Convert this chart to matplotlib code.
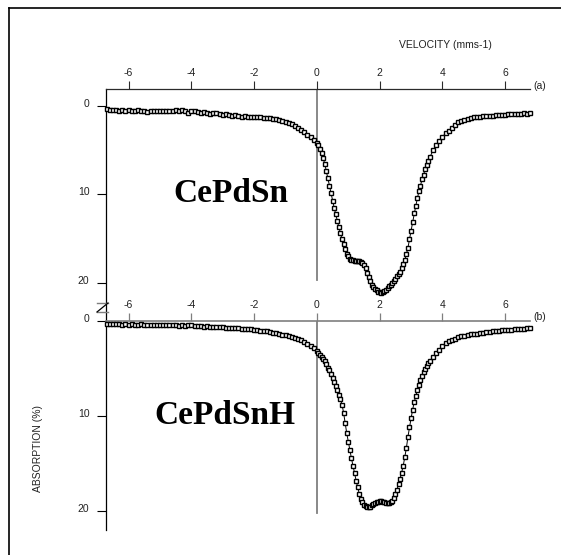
import matplotlib
matplotlib.use('Agg')
import matplotlib.pyplot as plt
from matplotlib.lines import Line2D
from matplotlib.transforms import ScaledTranslation

plt.rcParams['axes.unicode_minus'] = False
plt.rcParams['font.family'] = ['Liberation Sans', 'DejaVu Sans']

# ---------------- data ----------------
velocity = [
    -6.7, -6.6, -6.5, -6.4, -6.3, -6.2, -6.1, -6.0, -5.9, -5.8,
    -5.7, -5.6, -5.5, -5.4, -5.3, -5.2, -5.1, -5.0, -4.9, -4.8,
    -4.7, -4.6, -4.5, -4.4, -4.3, -4.2, -4.1, -4.0, -3.9, -3.8,
    -3.7, -3.6, -3.5, -3.4, -3.3, -3.2, -3.1, -3.0, -2.9, -2.8,
    -2.7, -2.6, -2.5, -2.4, -2.3, -2.2, -2.1, -2.0, -1.9, -1.8,
    -1.7, -1.6, -1.5, -1.4, -1.3, -1.2, -1.1, -1.0, -0.9, -0.8,
    -0.7, -0.6, -0.5, -0.4, -0.3, -0.2, -0.1,
    0.00, 0.05, 0.10, 0.15, 0.20, 0.25, 0.30, 0.35, 0.40, 0.45,
    0.50, 0.55, 0.60, 0.65, 0.70, 0.75, 0.80, 0.85, 0.90, 0.95,
    1.00, 1.05, 1.10, 1.15, 1.20, 1.25, 1.30, 1.35, 1.40, 1.45,
    1.50, 1.55, 1.60, 1.65, 1.70, 1.75, 1.80, 1.85, 1.90, 1.95,
    2.00, 2.05, 2.10, 2.15, 2.20, 2.25, 2.30, 2.35, 2.40, 2.45,
    2.50, 2.55, 2.60, 2.65, 2.70, 2.75, 2.80, 2.85, 2.90, 2.95,
    3.00, 3.05, 3.10, 3.15, 3.20, 3.25, 3.30, 3.35, 3.40, 3.45,
    3.50, 3.55, 3.60,
    3.7, 3.8, 3.9, 4.0, 4.1, 4.2, 4.3, 4.4, 4.5, 4.6,
    4.7, 4.8, 4.9, 5.0, 5.1, 5.2, 5.3, 5.4, 5.5, 5.6,
    5.7, 5.8, 5.9, 6.0, 6.1, 6.2, 6.3, 6.4, 6.5, 6.6,
    6.7, 6.8,
]

absorption_a = [  # CePdSn
    0.38, 0.42, 0.48, 0.40, 0.52, 0.45, 0.55, 0.47, 0.52, 0.62,
    0.48, 0.56, 0.52, 0.66, 0.52, 0.57, 0.62, 0.52, 0.58, 0.55,
    0.52, 0.57, 0.50, 0.55, 0.48, 0.60, 0.78, 0.62, 0.58, 0.70,
    0.80, 0.70, 0.78, 0.90, 0.82, 0.78, 0.95, 1.00, 0.88, 1.00,
    1.12, 1.00, 1.08, 1.20, 1.15, 1.22, 1.20, 1.22, 1.28, 1.25,
    1.32, 1.35, 1.38, 1.42, 1.48, 1.56, 1.66, 1.77, 1.91, 2.08,
    2.27, 2.47, 2.70, 2.95, 3.23, 3.52, 3.82,
    4.15, 4.45, 4.85, 5.30, 5.90, 6.55, 7.35, 8.10, 9.00, 9.85,
    10.7, 11.5, 12.25, 13.05, 13.7, 14.4, 15.05, 15.65, 16.2, 16.7,
    17.0, 17.25, 17.4, 17.45, 17.5, 17.5, 17.5, 17.55, 17.6, 17.75,
    17.95, 18.35, 18.85, 19.3, 19.8, 20.2, 20.5, 20.7, 20.85, 21.0,
    21.05, 21.1, 21.05, 20.95, 20.75, 20.6, 20.4, 20.2, 20.0, 19.75,
    19.5, 19.25, 19.0, 18.75, 18.35, 17.9, 17.4, 16.75, 16.05, 15.05,
    14.1, 13.15, 12.15, 11.3, 10.45, 9.65, 9.0, 8.3, 7.75, 7.15,
    6.65, 6.2, 5.8,
    5.0, 4.45, 3.95, 3.5, 3.1, 2.8, 2.5, 2.1, 1.85, 1.7,
    1.55, 1.45, 1.38, 1.30, 1.28, 1.22, 1.15, 1.18, 1.08, 1.10,
    1.02, 1.05, 0.98, 1.00, 0.92, 0.96, 0.88, 0.92, 0.85, 0.82,
    0.86, 0.78,
]

absorption_b = [  # CePdSnH
    0.30, 0.35, 0.28, 0.36, 0.32, 0.38, 0.33, 0.40, 0.35, 0.38,
    0.42, 0.36, 0.40, 0.44, 0.38, 0.42, 0.40, 0.45, 0.42, 0.40,
    0.46, 0.42, 0.45, 0.48, 0.44, 0.50, 0.47, 0.45, 0.52, 0.55,
    0.50, 0.58, 0.55, 0.60, 0.65, 0.62, 0.68, 0.66, 0.72, 0.70,
    0.75, 0.78, 0.76, 0.82, 0.80, 0.86, 0.88, 0.90, 0.95, 1.00,
    1.05, 1.10, 1.16, 1.22, 1.30, 1.38, 1.46, 1.52, 1.60, 1.68,
    1.78, 1.90, 2.05, 2.22, 2.42, 2.65, 2.88,
    3.12, 3.35, 3.55, 3.75, 4.00, 4.25, 4.55, 4.90, 5.20, 5.60,
    6.00, 6.40, 6.85, 7.30, 7.75, 8.25, 8.80, 9.65, 10.7, 11.8,
    12.7, 13.6, 14.45, 15.25, 16.05, 16.8, 17.5, 18.2, 18.7, 19.1,
    19.35, 19.5, 19.6, 19.6, 19.55, 19.4, 19.25, 19.15, 19.05, 19.0,
    18.95, 18.95, 19.0, 19.05, 19.15, 19.2, 19.2, 19.1, 18.9, 18.6,
    18.2, 17.75, 17.2, 16.6, 15.95, 15.25, 14.35, 13.4, 12.2, 11.2,
    10.25, 9.35, 8.55, 7.9, 7.3, 6.7, 6.2, 5.75, 5.35, 5.0,
    4.7, 4.45, 4.2,
    3.8, 3.4, 3.0, 2.65, 2.35, 2.15, 1.98, 1.85, 1.72, 1.62,
    1.55, 1.48, 1.42, 1.36, 1.32, 1.26, 1.22, 1.18, 1.14, 1.10,
    1.06, 1.02, 0.99, 0.96, 0.93, 0.90, 0.88, 0.85, 0.82, 0.80,
    0.78, 0.75,
]

x_ticks = [-6, -4, -2, 0, 2, 4, 6]
y_ticks = [0, 10, 20]
sample_a = "CePdSn"
sample_b = "CePdSnH"
x_title = "VELOCITY (mms-1)"
y_title = "ABSORPTION (%)"

# ---------------- layout ----------------
W, H = 561, 555
fig = plt.figure(figsize=(W / 100, H / 100), dpi=100)


def fx(px):
    return px / W


def fy(py):
    return 1 - py / H


ax_a = fig.add_axes([fx(106), fy(321), fx(530) - fx(106), fy(89) - fy(321)])
ax_b = fig.add_axes([fx(106), fy(530), fx(530) - fx(106), fy(321) - fy(530)])

DARK = '#2a2a2a'
GRAY = '#7f7f7f'

for ax in (ax_a, ax_b):
    ax.patch.set_alpha(0)
    ax.set_xlim(-6.72, 6.79)
    ax.spines['right'].set_visible(False)
    ax.spines['bottom'].set_visible(False)
    ax.spines['left'].set_color('black')
    ax.spines['left'].set_linewidth(0.9)
    ax.xaxis.tick_top()
    ax.set_xticks(x_ticks)
    ax.set_xticklabels([str(t) for t in x_ticks])
    ax.set_yticks(y_ticks)
    ax.set_yticklabels([str(t) for t in y_ticks])
    ax.tick_params(axis='y', direction='out', length=6.5, width=0.8,
                   pad=5.5, labelsize=7.5, colors='black', labelcolor='#222222')
    off = ScaledTranslation(0, 3 / 100, fig.dpi_scale_trans)
    for lab in ax.get_yticklabels():
        lab.set_transform(lab.get_transform() + off)

ax_a.set_ylim(24.3, -1.92)
ax_b.set_ylim(22.0, 0)

ax_a.spines['top'].set_color(DARK)
ax_a.spines['top'].set_linewidth(0.9)
ax_a.tick_params(axis='x', direction='out', length=5.8, width=0.8, pad=2,
                 labelsize=7.5, colors=DARK, labelcolor='#222222')

ax_b.spines['top'].set_color(GRAY)
ax_b.spines['top'].set_linewidth(1.2)
ax_b.tick_params(axis='x', direction='out', length=5.8, width=0.9, pad=2,
                 labelsize=7.5, colors=GRAY, labelcolor='#222222')
ax_b.yaxis.get_major_ticks()[0].tick1line.set_color(GRAY)

# zero-velocity lines
ax_a.plot([0, 0], [-1.92, 19.7], color=GRAY, lw=1.3, zorder=1)
ax_b.plot([0, 0], [0, 20.2], color=GRAY, lw=1.3, zorder=1)

# spectra
style = dict(color='black', lw=0.7, marker='s', ms=3.4, mfc='white',
             mec='black', mew=1.0, clip_on=False, zorder=3)
ax_a.plot(velocity, absorption_a, **style)
ax_b.plot(velocity, absorption_b, **style)

# texts
fig.text(fx(445), fy(45), x_title, ha='center', va='center', fontsize=7.5, color='#222222')
fig.text(fx(533), fy(86), "(a)", ha='left', va='center', fontsize=7.5, color='#222222')
fig.text(fx(533), fy(317), "(b)", ha='left', va='center', fontsize=7.5, color='#222222')
fig.text(fx(38), fy(449), y_title, ha='center', va='center', rotation=90,
         fontsize=7.5, color='#222222')
fig.text(fx(231), fy(194), sample_a, ha='center', va='center', fontsize=24,
         fontweight='bold', family='Liberation Serif')
fig.text(fx(225), fy(415), sample_b, ha='center', va='center', fontsize=24,
         fontweight='bold', family='Liberation Serif')

# axis break mark
fig.add_artist(Line2D([fx(97), fx(108)], [fy(303), fy(303)], color=GRAY, lw=1.0))
fig.add_artist(Line2D([fx(97), fx(108)], [fy(312), fy(312)], color=GRAY, lw=1.0))
fig.add_artist(Line2D([fx(97), fx(108)], [fy(312), fy(303)], color='black', lw=0.9))

# outer frame (top and left edges)
fig.add_artist(Line2D([fx(9), fx(9)], [fy(8), 0], color='black', lw=1.2))
fig.add_artist(Line2D([fx(9), 1], [fy(8), fy(8)], color='black', lw=1.2))

fig.savefig('out.png', dpi=100)
